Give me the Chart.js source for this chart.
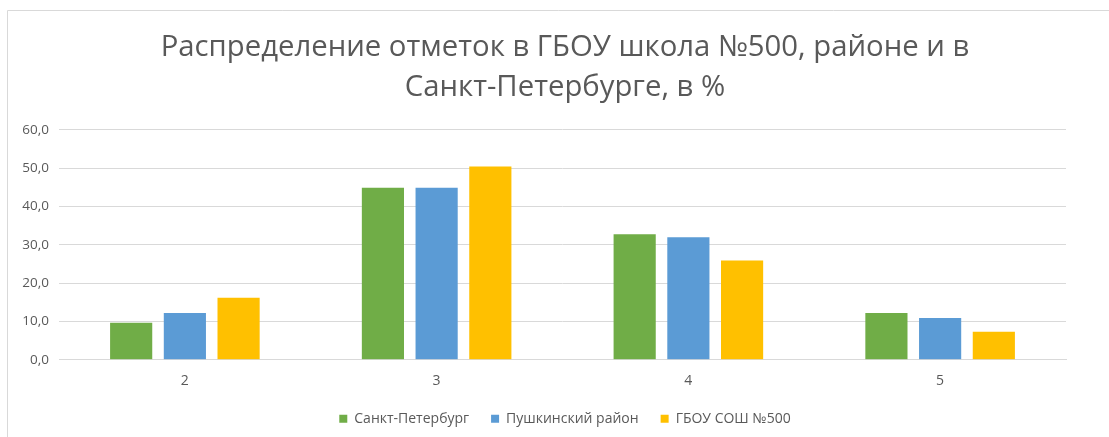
<!DOCTYPE html>
<html><head><meta charset="utf-8">
<script src="https://cdn.jsdelivr.net/npm/chart.js@4"></script>
<style>html,body{margin:0;padding:0;background:#fff;overflow:hidden}#wrap{width:1109px;height:437px;position:relative}</style>
</head><body><div id="wrap"><canvas id="c" width="1109" height="437"></canvas></div>
<script>
const categories = ["2", "3", "4", "5"];
const seriesNames = ["Санкт-Петербург", "Пушкинский район", "ГБОУ СОШ №500"];
const spb = [9.7, 44.9, 32.8, 12.2];
const pushkin = [12.2, 44.9, 32.0, 10.9];
const school = [16.2, 50.5, 25.9, 7.3];
const yTicks = [0, 10, 20, 30, 40, 50, 60];
const titleLines = ["Распределение отметок в ГБОУ школа №500, районе и в", "Санкт-Петербурге, в %"];
const colors = ["#70AD47", "#5B9BD5", "#FFC000"];

const FONT = "'Open Sans', 'Noto Sans', sans-serif";
const borderPlugin = {
  id: 'frame',
  beforeDraw(chart) {
    const ctx = chart.ctx;
    ctx.save();
    ctx.strokeStyle = '#d9d9d9';
    ctx.lineWidth = 1;
    ctx.beginPath();
    ctx.moveTo(7.5, 437);
    ctx.lineTo(7.5, 10.5);
    ctx.lineTo(1109, 10.5);
    ctx.stroke();
    ctx.restore();
  }
};

new Chart(document.getElementById('c'), {
  type: 'bar',
  data: {
    labels: categories,
    datasets: [
      { label: seriesNames[0], data: spb, backgroundColor: colors[0] },
      { label: seriesNames[1], data: pushkin, backgroundColor: colors[1] },
      { label: seriesNames[2], data: school, backgroundColor: colors[2] }
    ]
  },
  options: {
    responsive: false,
    animation: false,
    devicePixelRatio: 1,
    layout: { padding: { left: 21, right: 0, top: 28, bottom: 1.2 } },
    datasets: { bar: { categoryPercentage: 0.64, barPercentage: 0.785 } },
    plugins: {
      title: {
        display: true,
        text: titleLines,
        color: '#595959',
        font: { family: FONT, size: 29.3, weight: 'normal', lineHeight: 1.365 },
        padding: { top: 0, bottom: 22 }
      },
      legend: {
        position: 'bottom',
        labels: {
          color: '#595959',
          font: { family: FONT, size: 14 },
          boxWidth: 8, boxHeight: 8,
          padding: 22
        }
      },
      tooltip: { enabled: false }
    },
    scales: {
      x: {
        grid: { display: false, drawTicks: false },
        border: { color: '#d9d9d9' },
        ticks: { color: '#595959', font: { family: FONT, size: 14, lineHeight: 1 }, padding: 14 },
        afterFit(axis) { axis.height = 30; }
      },
      y: {
        min: 0, max: 60,
        afterBuildTicks(axis) { axis.ticks = yTicks.map(v => ({ value: v })); },
        grid: { color: '#d9d9d9', drawTicks: false },
        border: { display: false },
        ticks: {
          color: '#595959',
          font: { family: FONT, size: 13.5 },
          padding: 10,
          callback: v => Number(v).toFixed(1).replace('.', ',')
        },
        afterFit(axis) { axis.width = 38; }
      },
      yRight: {
        position: 'right',
        display: true,
        grid: { display: false, drawTicks: false },
        border: { display: false },
        ticks: { display: false },
        afterFit(axis) { axis.width = 43; }
      }
    }
  },
  plugins: [borderPlugin]
});
</script></body></html>
